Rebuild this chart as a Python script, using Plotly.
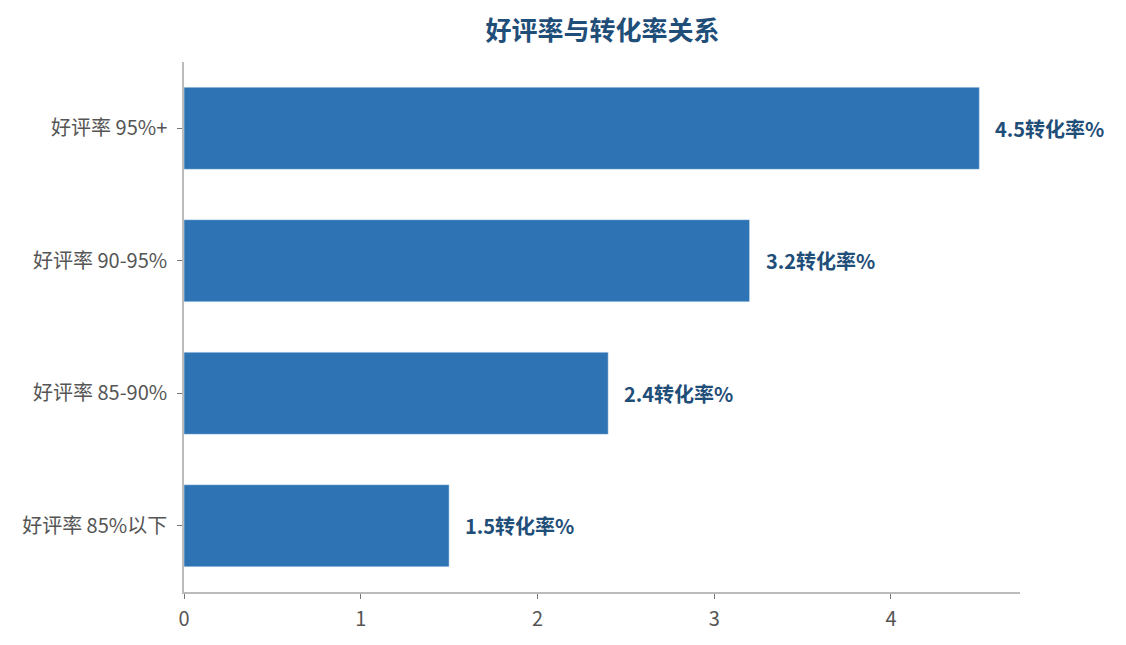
import plotly.graph_objects as go

categories = ['好评率 85%以下', '好评率 85-90%', '好评率 90-95%', '好评率 95%+']
conversion = [1.5, 2.4, 3.2, 4.5]
labels = [f'{v}转化率%' for v in conversion]

fig = go.Figure()
fig.add_trace(go.Bar(
    x=conversion,
    y=categories,
    orientation='h',
    marker=dict(color='#2E74B5'),
    width=0.62,
    hoverinfo='x+y',
))

for v, c, t in zip(conversion, categories, labels):
    fig.add_annotation(
        x=v, y=c, text=f'<b>{t}</b>', showarrow=False,
        xanchor='left', xshift=14,
        font=dict(size=20, color='#1F4E79', family='Noto Sans CJK SC'),
    )

fig.update_layout(
    width=1126, height=645,
    paper_bgcolor='white', plot_bgcolor='white',
    margin=dict(l=176, r=114, t=54, b=61),
    font=dict(family='Noto Sans CJK SC', color='#555555'),
    title=dict(text='<b>好评率与转化率关系</b>', x=0.528, xanchor='center', y=0.978,
               font=dict(size=26, color='#1F4E79')),
    showlegend=False,
)
fig.update_xaxes(range=[0, 4.73], showgrid=False, zeroline=False,
                 showline=True, linecolor='#BBBBBB', linewidth=1.5,
                 ticks='outside', tickcolor='#777777', ticklen=5,
                 ticklabelstandoff=3,
                 tickvals=[0, 1, 2, 3, 4], tickfont=dict(size=20, color='#555555'))
fig.update_yaxes(range=[-0.5, 3.5], showgrid=False, zeroline=False,
                 showline=True, linecolor='#BBBBBB', linewidth=1.5,
                 ticks='outside', tickcolor='#777777', ticklen=5,
                 ticklabelstandoff=6,
                 tickfont=dict(size=20, color='#555555'))

fig.write_html("out.html")
